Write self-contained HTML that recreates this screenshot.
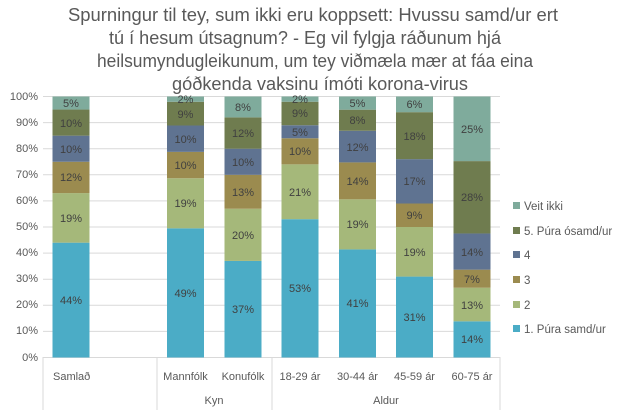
<!DOCTYPE html>
<html><head><meta charset="utf-8"><style>
body{margin:0;background:#fff;}
svg{display:block;font-family:"Liberation Sans",sans-serif;}
</style></head><body>
<svg width="624" height="420" xmlns="http://www.w3.org/2000/svg">
<g stroke="#d9d9d9" stroke-width="1">
<line x1="43" x2="500" y1="96.5" y2="96.5"/><line x1="43" x2="500" y1="122.6" y2="122.6"/>
<line x1="43" x2="500" y1="148.7" y2="148.7"/><line x1="43" x2="500" y1="174.8" y2="174.8"/>
<line x1="43" x2="500" y1="200.9" y2="200.9"/><line x1="43" x2="500" y1="227" y2="227"/>
<line x1="43" x2="500" y1="253.1" y2="253.1"/><line x1="43" x2="500" y1="279.2" y2="279.2"/>
<line x1="43" x2="500" y1="305.3" y2="305.3"/><line x1="43" x2="500" y1="331.4" y2="331.4"/>
<line x1="43" x2="500" y1="357.5" y2="357.5"/>
<line x1="43" x2="43" y1="357" y2="410"/><line x1="157" x2="157" y1="357" y2="410"/>
<line x1="272" x2="272" y1="357" y2="410"/><line x1="500" x2="500" y1="357" y2="410"/>
</g>
<g font-size="11" fill="#595959" text-anchor="end">
<text x="38" y="100">100%</text><text x="38" y="126">90%</text><text x="38" y="152">80%</text>
<text x="38" y="178">70%</text><text x="38" y="204">60%</text><text x="38" y="230">50%</text>
<text x="38" y="256">40%</text><text x="38" y="282">30%</text><text x="38" y="308">20%</text>
<text x="38" y="334">10%</text><text x="38" y="361">0%</text>
</g>
<g>
<rect x="52.5" y="242.66" width="37" height="114.84" fill="#4bacc6"/>
<rect x="52.5" y="193.07" width="37" height="49.59" fill="#a5b87a"/>
<rect x="52.5" y="161.75" width="37" height="31.32" fill="#9b8b4f"/>
<rect x="52.5" y="135.65" width="37" height="26.1" fill="#5f7391"/>
<rect x="52.5" y="109.55" width="37" height="26.1" fill="#6f7c4f"/>
<rect x="52.5" y="96.5" width="37" height="13.05" fill="#7fab9c"/>

<rect x="167" y="228.32" width="37" height="129.18" fill="#4bacc6"/>
<rect x="167" y="178.23" width="37" height="50.09" fill="#a5b87a"/>
<rect x="167" y="151.87" width="37" height="26.36" fill="#9b8b4f"/>
<rect x="167" y="125.51" width="37" height="26.36" fill="#5f7391"/>
<rect x="167" y="101.78" width="37" height="23.73" fill="#6f7c4f"/>
<rect x="167" y="96.5" width="37" height="5.28" fill="#7fab9c"/>

<rect x="224.5" y="260.93" width="37" height="96.57" fill="#4bacc6"/>
<rect x="224.5" y="208.73" width="37" height="52.2" fill="#a5b87a"/>
<rect x="224.5" y="174.8" width="37" height="33.93" fill="#9b8b4f"/>
<rect x="224.5" y="148.7" width="37" height="26.1" fill="#5f7391"/>
<rect x="224.5" y="117.38" width="37" height="31.32" fill="#6f7c4f"/>
<rect x="224.5" y="96.5" width="37" height="20.88" fill="#7fab9c"/>

<rect x="281.5" y="219.17" width="37" height="138.33" fill="#4bacc6"/>
<rect x="281.5" y="164.36" width="37" height="54.81" fill="#a5b87a"/>
<rect x="281.5" y="138.26" width="37" height="26.1" fill="#9b8b4f"/>
<rect x="281.5" y="125.21" width="37" height="13.05" fill="#5f7391"/>
<rect x="281.5" y="101.72" width="37" height="23.49" fill="#6f7c4f"/>
<rect x="281.5" y="96.5" width="37" height="5.22" fill="#7fab9c"/>

<rect x="339" y="249.41" width="37" height="108.09" fill="#4bacc6"/>
<rect x="339" y="199.32" width="37" height="50.09" fill="#a5b87a"/>
<rect x="339" y="162.41" width="37" height="36.91" fill="#9b8b4f"/>
<rect x="339" y="130.77" width="37" height="31.64" fill="#5f7391"/>
<rect x="339" y="109.68" width="37" height="21.09" fill="#6f7c4f"/>
<rect x="339" y="96.5" width="37" height="13.18" fill="#7fab9c"/>

<rect x="396" y="276.59" width="37" height="80.91" fill="#4bacc6"/>
<rect x="396" y="227" width="37" height="49.59" fill="#a5b87a"/>
<rect x="396" y="203.51" width="37" height="23.49" fill="#9b8b4f"/>
<rect x="396" y="159.14" width="37" height="44.37" fill="#5f7391"/>
<rect x="396" y="112.16" width="37" height="46.98" fill="#6f7c4f"/>
<rect x="396" y="96.5" width="37" height="15.66" fill="#7fab9c"/>

<rect x="453.5" y="321.32" width="37" height="36.18" fill="#4bacc6"/>
<rect x="453.5" y="287.73" width="37" height="33.59" fill="#a5b87a"/>
<rect x="453.5" y="269.64" width="37" height="18.09" fill="#9b8b4f"/>
<rect x="453.5" y="233.46" width="37" height="36.18" fill="#5f7391"/>
<rect x="453.5" y="161.1" width="37" height="72.36" fill="#6f7c4f"/>
<rect x="453.5" y="96.5" width="37" height="64.6" fill="#7fab9c"/>
</g>
<g font-size="11" fill="#404040" text-anchor="middle">
<text x="71" y="304">44%</text><text x="71" y="222">19%</text><text x="71" y="181">12%</text><text x="71" y="153">10%</text><text x="71" y="127">10%</text><text x="71" y="107">5%</text>
<text x="185.5" y="297">49%</text><text x="185.5" y="207">19%</text><text x="185.5" y="169">10%</text><text x="185.5" y="143">10%</text><text x="185.5" y="118">9%</text><text x="185.5" y="103">2%</text>
<text x="243" y="313">37%</text><text x="243" y="239">20%</text><text x="243" y="196">13%</text><text x="243" y="166">10%</text><text x="243" y="137">12%</text><text x="243" y="111">8%</text>
<text x="300" y="292">53%</text><text x="300" y="196">21%</text><text x="300" y="155">10%</text><text x="300" y="136">5%</text><text x="300" y="117">9%</text><text x="300" y="103">2%</text>
<text x="357.5" y="307">41%</text><text x="357.5" y="228">19%</text><text x="357.5" y="185">14%</text><text x="357.5" y="151">12%</text><text x="357.5" y="124">8%</text><text x="357.5" y="107">5%</text>
<text x="414.5" y="321">31%</text><text x="414.5" y="256">19%</text><text x="414.5" y="219">9%</text><text x="414.5" y="185">17%</text><text x="414.5" y="140">18%</text><text x="414.5" y="108">6%</text>
<text x="472" y="343">14%</text><text x="472" y="309">13%</text><text x="472" y="283">7%</text><text x="472" y="256">14%</text><text x="472" y="201">28%</text><text x="472" y="133">25%</text>
</g>
<g font-size="11" fill="#595959">
<text x="53" y="380">Samlað</text>
<text x="185.5" y="380" text-anchor="middle">Mannfólk</text>
<text x="243" y="380" text-anchor="middle">Konufólk</text>
<text x="300" y="380" text-anchor="middle">18-29 ár</text>
<text x="357.5" y="380" text-anchor="middle">30-44 ár</text>
<text x="414.5" y="380" text-anchor="middle">45-59 ár</text>
<text x="472" y="380" text-anchor="middle">60-75 ár</text>
<text x="214" y="404" text-anchor="middle">Kyn</text>
<text x="386" y="404" text-anchor="middle">Aldur</text>
</g>
<g font-size="11.5" fill="#595959">
<rect x="513" y="202" width="7" height="7" fill="#7fab9c"/><text x="524" y="210">Veit ikki</text>
<rect x="513" y="227" width="7" height="7" fill="#6f7c4f"/><text x="524" y="235">5. Púra ósamd/ur</text>
<rect x="513" y="251" width="7" height="7" fill="#5f7391"/><text x="524" y="259">4</text>
<rect x="513" y="276" width="7" height="7" fill="#9b8b4f"/><text x="524" y="284">3</text>
<rect x="513" y="301" width="7" height="7" fill="#a5b87a"/><text x="524" y="309">2</text>
<rect x="513" y="325" width="7" height="7" fill="#4bacc6"/><text x="524" y="333">1. Púra samd/ur</text>
</g>
<g font-size="18" fill="#595959" text-anchor="middle">
<text x="313" y="21" textLength="490" lengthAdjust="spacingAndGlyphs">Spurningur til tey, sum ikki eru koppsett: Hvussu samd/ur ert</text>
<text x="305" y="44" textLength="392" lengthAdjust="spacingAndGlyphs">tú í hesum útsagnum? - Eg vil fylgja ráðunum hjá</text>
<text x="315" y="67" textLength="436" lengthAdjust="spacingAndGlyphs">heilsumyndugleikunum, um tey viðmæla mær at fáa eina</text>
<text x="320" y="90" textLength="296" lengthAdjust="spacingAndGlyphs">góðkenda vaksinu ímóti korona-virus</text>
</g>
</svg>
</body></html>
